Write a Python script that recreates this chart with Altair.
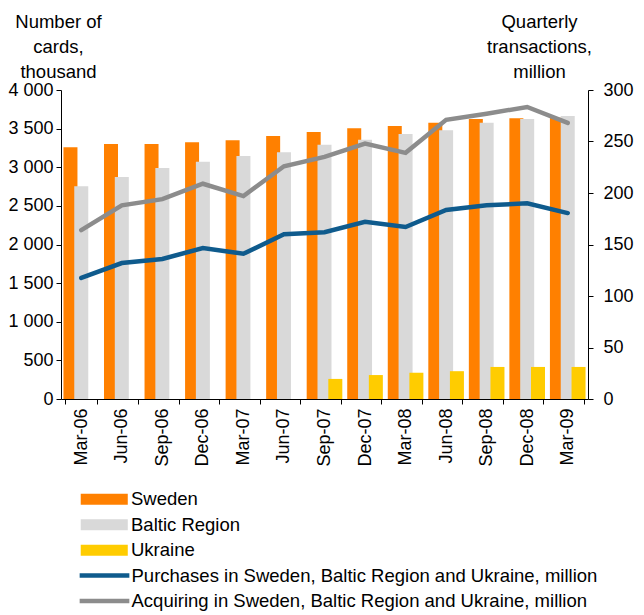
import altair as alt
import pandas as pd

quarters = ["Mar-06", "Jun-06", "Sep-06", "Dec-06", "Mar-07", "Jun-07", "Sep-07",
            "Dec-07", "Mar-08", "Jun-08", "Sep-08", "Dec-08", "Mar-09"]
sweden = [3260, 3300, 3300, 3325, 3350, 3405, 3455, 3505, 3535, 3575, 3625, 3635, 3640]
baltic = [2755, 2875, 2990, 3070, 3145, 3195, 3290, 3355, 3430, 3480, 3575, 3625, 3665]
ukraine = [None, None, None, None, None, None, 260, 310, 340, 360, 415, 415, 415]
purchases = [117.5, 132, 136, 146.5, 141, 160, 162, 172, 167, 183.5, 188, 190, 180.5]
acquiring = [164, 188, 194, 209, 197, 226, 235, 248, 239, 271, 277, 283.5, 268]

bar_series = ["Sweden", "Baltic Region", "Ukraine"]
bar_colors = ["#FF8000", "#D9D9D9", "#FFCC00"]
line_series = ["Purchases in Sweden, Baltic Region and Ukraine, million",
               "Acquiring in Sweden, Baltic Region and Ukraine, million"]
line_colors = ["#0F5B8D", "#8C8C8C"]

rows = []
for i, q in enumerate(quarters):
    for s, vals in zip(bar_series, [sweden, baltic, ukraine]):
        if vals[i] is not None:
            rows.append({"quarter": q, "series": s, "value": vals[i],
                         "order": bar_series.index(s)})
bars_df = pd.DataFrame(rows)

lrows = []
for s, vals in zip(line_series, [purchases, acquiring]):
    for q, v in zip(quarters, vals):
        lrows.append({"quarter": q, "line": s, "value": v})
lines_df = pd.DataFrame(lrows)

FONT = "Liberation Sans"
FS = 18       # axis labels
FT = 18.5     # titles and legend

x_enc = alt.X("quarter:N", sort=quarters,
              scale=alt.Scale(paddingInner=0.2, paddingOuter=0.1),
              axis=alt.Axis(title=None, labelAngle=-90, labelAlign="right",
                            labelBaseline="middle", tickBand="extent",
                            tickSize=5, labelPadding=4, domainColor="#000",
                            tickColor="#000"))

bars = alt.Chart(bars_df).mark_bar(width=14).encode(
    x=x_enc,
    xOffset=alt.XOffset("series:N", sort=bar_series,
                        scale=alt.Scale(domain=bar_series, paddingInner=0, paddingOuter=0)),
    y=alt.Y("value:Q",
            scale=alt.Scale(domain=[0, 4000], nice=False),
            axis=alt.Axis(values=list(range(0, 4001, 500)), grid=False,
                          labelExpr="replace(format(datum.value, ','), ',', ' ')",
                          title=["Number of", "cards,", "thousand"],
                          titleAngle=0, titleAlign="center", titleBaseline="top",
                          titleX=-3, titleY=-78, titleLineHeight=25,
                          titleFontWeight="normal", titleFontSize=FT,
                          tickSize=5, labelPadding=3, domainColor="#000",
                          tickColor="#000")),
    fill=alt.Fill("series:N", sort=bar_series,
                  scale=alt.Scale(domain=bar_series, range=bar_colors),
                  legend=alt.Legend(title=None, orient="none", legendX=34, legendY=400,
                                    symbolType="M-3.36,-0.78H3.36V0.78H-3.36Z", symbolSize=196,
                                    symbolStrokeWidth=0, labelOffset=17.5, rowPadding=6.5,
                                    labelFontSize=FT, labelLimit=0)),
    order=alt.Order("order:Q"),
)

lines = alt.Chart(lines_df).mark_line(strokeWidth=4.5, strokeCap="round").encode(
    x=alt.X("quarter:N", sort=quarters),
    y=alt.Y("value:Q",
            scale=alt.Scale(domain=[0, 300], nice=False),
            axis=alt.Axis(orient="right", values=list(range(0, 301, 50)), grid=False,
                          title=["Quarterly", "transactions,", "million"],
                          titleAngle=0, titleAlign="center", titleBaseline="top",
                          titleX=-49, titleY=-78, titleLineHeight=25,
                          titleFontWeight="normal", titleFontSize=FT,
                          tickSize=5, labelPadding=10, domainColor="#000",
                          tickColor="#000")),
    stroke=alt.Stroke("line:N", sort=line_series,
                      scale=alt.Scale(domain=line_series, range=line_colors),
                      legend=alt.Legend(title=None, orient="none", legendX=34, legendY=476,
                                        symbolType="M-3.55,0H3.55", symbolSize=196,
                                        symbolStrokeWidth=4.5, labelOffset=17.5, rowPadding=6.5,
                                        labelFontSize=FT, labelLimit=0)),
)

chart = alt.layer(bars, lines).resolve_scale(
    y="independent", fill="independent", stroke="independent"
).properties(
    width=527, height=309,
    autosize=alt.AutoSizeParams(type="none"),
    padding={"left": 53, "top": 82, "right": 48, "bottom": 216},
).configure_view(stroke=None).configure_axis(
    labelFont=FONT, titleFont=FONT, labelFontSize=FS, labelColor="#000",
    titleColor="#000"
).configure_legend(labelFont=FONT, labelColor="#000")

chart.save("out.html", embed_options={"renderer": "svg", "actions": False})
